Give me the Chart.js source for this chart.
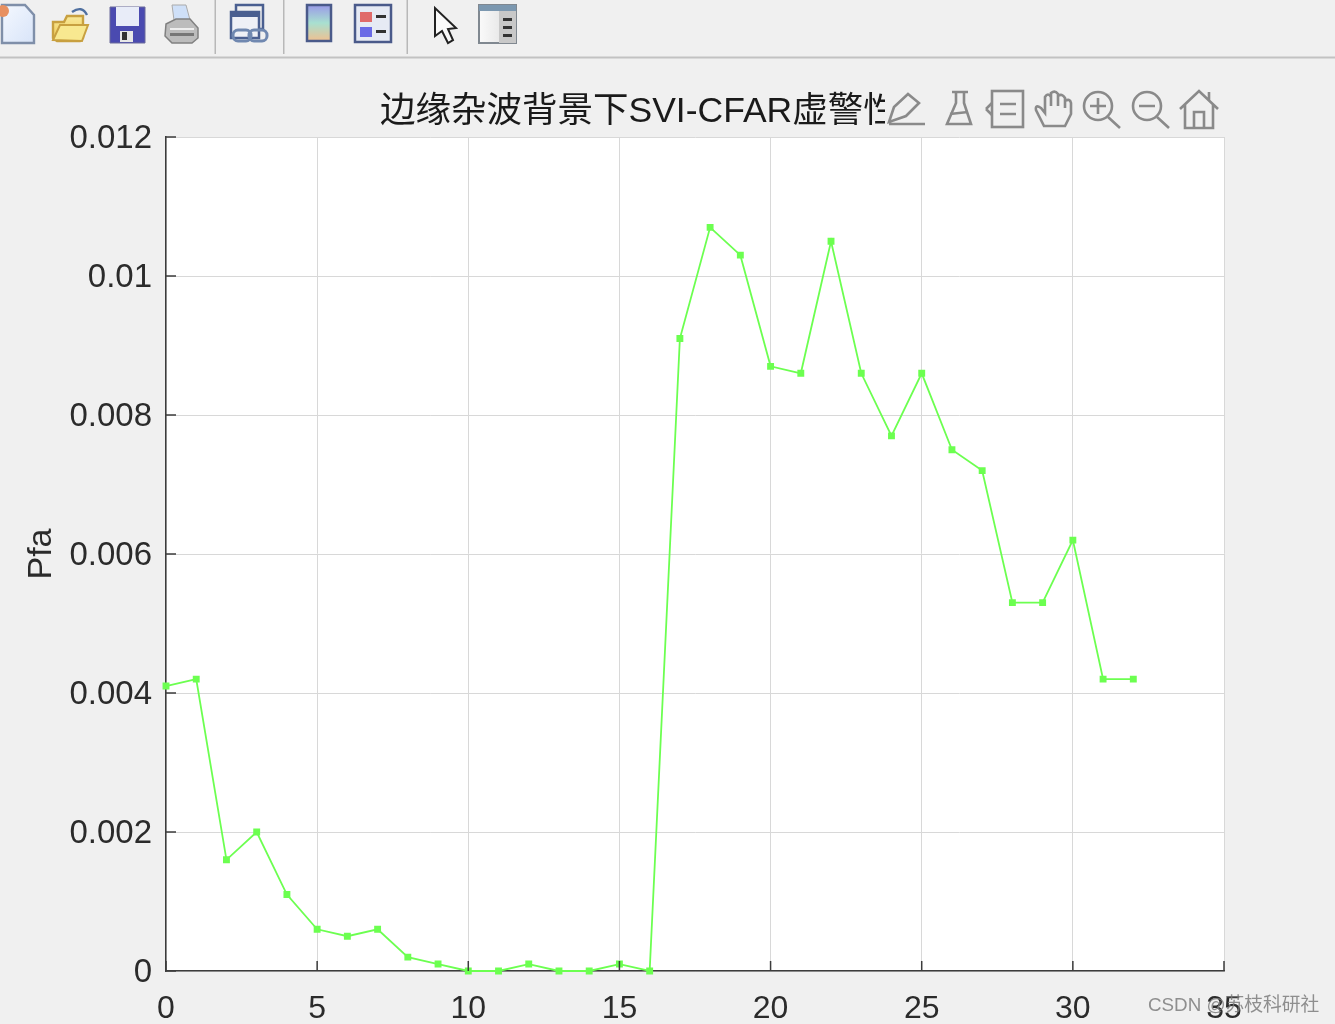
<!DOCTYPE html>
<html lang="zh"><head><meta charset="utf-8">
<script src="https://cdn.jsdelivr.net/npm/chart.js@4"></script>
<style>
html,body{margin:0;padding:0;background:#f0f0f0;overflow:hidden}
#wrap{position:relative;width:1335px;height:1024px;overflow:hidden}
#wrap canvas{position:absolute;left:0;top:0}
svg{position:absolute;left:0;top:0;filter:blur(.7px)}
#mark{position:absolute;left:1148px;top:989px;font:18.8px "Liberation Sans","Noto Sans CJK SC",sans-serif;color:rgba(125,125,125,.85);white-space:nowrap}
</style></head><body>
<div id="wrap">
<canvas id="c" width="1335" height="1024"></canvas>
<svg width="1335" height="1024" viewBox="0 0 1335 1024">
<defs>
<linearGradient id="cb" x1="0" y1="0" x2="0" y2="1"><stop offset="0" stop-color="#9a9ae8"/><stop offset=".5" stop-color="#a8e0d0"/><stop offset="1" stop-color="#f0c090"/></linearGradient>
<linearGradient id="pg" x1="0" y1="0" x2="1" y2="1"><stop offset="0" stop-color="#f4f8ff"/><stop offset="1" stop-color="#d8e4f8"/></linearGradient>
<linearGradient id="fg" x1="0" y1="0" x2="0" y2="1"><stop offset="0" stop-color="#f8e99a"/><stop offset="1" stop-color="#f0c850"/></linearGradient>
<linearGradient id="sg" x1="0" y1="0" x2="1" y2="0"><stop offset="0" stop-color="#fafafa"/><stop offset="1" stop-color="#dcdcdc"/></linearGradient>
</defs>
<!-- toolbar -->
<rect x="0" y="56.5" width="1335" height="2" fill="#c2c2c2"/>
<rect x="214.5" y="0" width="1.5" height="54" fill="#b8b8b8"/>
<rect x="283" y="0" width="1.5" height="54" fill="#b8b8b8"/>
<rect x="406.5" y="0" width="1.5" height="54" fill="#b8b8b8"/>
<path d="M2 5H25L34 15V43H2Z" fill="url(#pg)" stroke="#7f8fa9" stroke-width="2.4"/>
<circle cx="3" cy="11" r="6" fill="#e89060"/>
<path d="M53 22H64L67 16H83V38L80 41H57L53 38Z" fill="url(#fg)" stroke="#c8a040" stroke-width="2.4"/>
<path d="M53 40L60 25H88L82 41Z" fill="#f8e890" stroke="#c8a040" stroke-width="2"/>
<path d="M72 12Q82 5 87 15" fill="none" stroke="#5070a0" stroke-width="2.4"/>
<path d="M110 7H145V43H110Z" fill="#4a4ab0" stroke="#6a6a9a"/>
<rect x="116" y="7" width="23" height="19" fill="#e8ecf8"/>
<rect x="120" y="31" width="13" height="11" fill="#e8e8e8"/><rect x="122" y="32" width="5" height="8" fill="#333"/>
<path d="M172 5H186L190 20H174Z" fill="#cfe0f8" stroke="#aaa"/>
<path d="M166 24L176 19H190L198 28V38L192 43H172L165 36Z" fill="#bcbcbc" stroke="#808080" stroke-width="1.5"/>
<rect x="170" y="28" width="24" height="2" fill="#eee"/><rect x="170" y="33" width="24" height="3" fill="#777"/>
<rect x="236" y="5" width="27" height="24" fill="none" stroke="#4a5f90" stroke-width="2.5"/>
<rect x="231" y="12" width="28" height="26" fill="#eef0f6" stroke="#4a5f90" stroke-width="2.5"/>
<rect x="231" y="12" width="28" height="5" fill="#4a5f90"/>
<rect x="233" y="30" width="18" height="11" rx="5" fill="none" stroke="#7088b0" stroke-width="3"/>
<rect x="249" y="30" width="18" height="11" rx="5" fill="none" stroke="#7088b0" stroke-width="3"/>
<rect x="307" y="5" width="24" height="36" fill="url(#cb)" stroke="#4a5a8a" stroke-width="2.5"/>
<rect x="355" y="5" width="36" height="37" fill="#e6eaf4" stroke="#4a5a8a" stroke-width="2.5"/>
<rect x="360" y="12" width="12" height="10" fill="#e06a6a"/><rect x="360" y="27" width="12" height="10" fill="#6a6ae6"/>
<rect x="376" y="15" width="10" height="3" fill="#333"/><rect x="376" y="30" width="10" height="3" fill="#333"/>
<path d="M435 8L435 36L442 31L448 43L453 40L448 29L456 28Z" fill="#fafafa" stroke="#222" stroke-width="2"/>
<rect x="479" y="5" width="37" height="38" fill="url(#sg)" stroke="#808890" stroke-width="2"/>
<rect x="479" y="5" width="37" height="6" fill="#7c98b0"/><rect x="499" y="11" width="17" height="32" fill="#c8c8c8"/>
<rect x="503" y="18" width="9" height="3" fill="#333"/><rect x="503" y="26" width="9" height="3" fill="#333"/><rect x="503" y="34" width="9" height="3" fill="#333"/>
<!-- axes toolbar covering the end of the title -->
<rect x="885" y="86" width="345" height="46" fill="#f0f0f0"/>
<g fill="none" stroke="#8a8a8a" stroke-width="2.6">
<path d="M889 122L894 107L908 94L919 103L906 116ZM889 124H925" />
<path d="M952 92H968M956 92V103L947 124H971L964 103V92" />
<path d="M950 114L968 112" />
<rect x="992" y="91" width="31" height="36"/><path d="M986 109L992 103M986 109L992 115M1000 104H1016M1000 114H1016"/>
<path d="M1044 126L1036 110Q1035 104 1041 108L1045 113V97Q1048 92 1051 97V106V93Q1055 90 1058 94V106V96Q1062 93 1065 98V108V101Q1070 98 1071 103V114L1065 126Z"/>
<circle cx="1098" cy="106" r="14"/><path d="M1108 117L1120 128M1098 98V114M1090 106H1106"/>
<circle cx="1147" cy="106" r="14"/><path d="M1157 117L1169 128M1139 106H1155"/>
<path d="M1180 109L1199 91L1218 109M1185 105V128H1213V105M1194 128V112H1204V128M1209 92V100"/>
</g>
</svg>
<div id="mark">CSDN @苏枝科研社</div>
</div>
<script>
const xValues = [0,1,2,3,4,5,6,7,8,9,10,11,12,13,14,15,16,17,18,19,20,21,22,23,24,25,26,27,28,29,30,31,32];
const pfaValues = [0.0041,0.0042,0.0016,0.0020,0.0011,0.0006,0.0005,0.0006,0.0002,0.0001,0,0,0.0001,0,0,0.0001,0,0.0091,0.0107,0.0103,0.0087,0.0086,0.0105,0.0086,0.0077,0.0086,0.0075,0.0072,0.0053,0.0053,0.0062,0.0042,0.0042];
const xTickValues = [0,5,10,15,20,25,30,35];
const yTickLabels = ['0','0.002','0.004','0.006','0.008','0.01','0.012'];
const titleText = '边缘杂波背景下SVI-CFAR虚警性';
const yTitle = 'Pfa';

const FONT = '"Liberation Sans","Noto Sans CJK SC",sans-serif';
const AXIS = '#3c3c3c', GRID = '#d8d8d8', TXT = '#2b2b2b', LINE = '#6cff50';

const frame = {
  id: 'frame',
  afterLayout(chart) { chart.titleBlock.left = 380; chart.titleBlock.right = 1300; },
  beforeDraw(chart) {
    const {ctx, chartArea: a} = chart;
    ctx.save(); ctx.fillStyle = '#ffffff';
    ctx.fillRect(a.left, a.top, a.right - a.left, a.bottom - a.top); ctx.restore();
  },
  afterDatasetsDraw(chart) {
    const {ctx, chartArea: a, scales: {x, y}} = chart;
    ctx.save(); ctx.strokeStyle = AXIS; ctx.lineWidth = 1.5; ctx.beginPath();
    x.ticks.forEach(t => { const p = x.getPixelForValue(t.value); ctx.moveTo(p, a.bottom); ctx.lineTo(p, a.bottom - 10); });
    y.ticks.forEach(t => { const p = y.getPixelForValue(t.value); ctx.moveTo(a.left, p); ctx.lineTo(a.left + 10, p); });
    ctx.stroke(); ctx.restore();
  }
};

new Chart(document.getElementById('c'), {
  type: 'line',
  plugins: [frame],
  data: { datasets: [{
    data: xValues.map((v, i) => ({x: v, y: pfaValues[i]})),
    borderColor: LINE, backgroundColor: LINE, borderWidth: 1.8,
    pointStyle: 'rect', pointRadius: 3.6, pointHoverRadius: 3.6, tension: 0, clip: false
  }]},
  options: {
    responsive: false, animation: false, events: [],
    layout: { padding: { top: 92, right: 111, left: 0, bottom: 0 } },
    plugins: {
      legend: { display: false }, tooltip: { enabled: false },
      title: { display: true, text: titleText, align: 'start', fullSize: false, color: '#1a1a1a',
        font: { family: FONT, size: 35.5, weight: 'normal', lineHeight: '40px' }, padding: { top: 0, bottom: 5 } }
    },
    scales: {
      x: { type: 'linear', min: 0, max: 35,
        afterFit(s) { s.height = 53; },
        afterBuildTicks(s) { s.ticks = xTickValues.map(v => ({value: v})); },
        grid: { color: GRID, lineWidth: 1, drawTicks: false },
        border: { color: AXIS, width: 1.5 },
        ticks: { color: TXT, padding: 19, maxRotation: 0, autoSkip: false, font: { family: FONT, size: 32 } }
      },
      y: { type: 'linear', min: 0, max: 0.012,
        afterFit(s) { s.width = 166; },
        afterBuildTicks(s) { s.ticks = yTickLabels.map(v => ({value: Number(v)})); },
        grid: { color: GRID, lineWidth: 1, drawTicks: false },
        border: { color: AXIS, width: 1.5 },
        title: { display: true, text: yTitle, color: TXT, font: { family: FONT, size: 34 }, padding: { top: 21, bottom: 0 } },
        ticks: { color: TXT, padding: 14, labelOffset: 2, autoSkip: false, font: { family: FONT, size: 33 },
          callback: v => String(Number(v.toFixed(3))) }
      }
    }
  }
});
</script>
</body></html>
